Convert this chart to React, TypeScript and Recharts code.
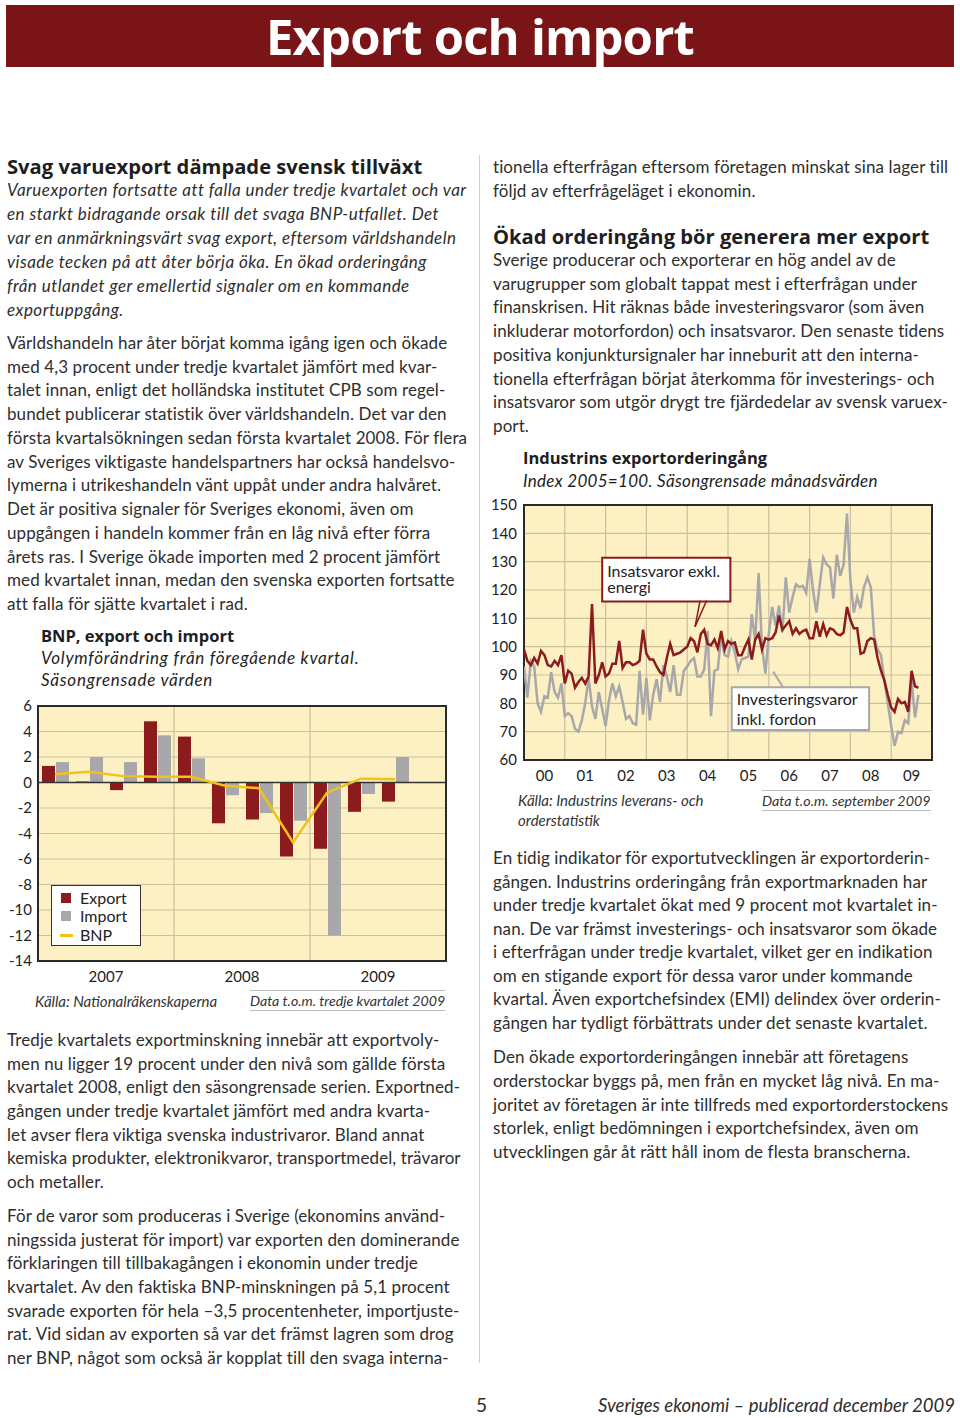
import React from "react";
import {
  ComposedChart,
  LineChart,
  Bar,
  Line,
  XAxis,
  YAxis,
  CartesianGrid,
  ReferenceLine,
  ReferenceArea,
} from "recharts";

// ---- BNP, export och import (quarterly, % change) ----
const quarters = ["2007K1", "2007K2", "2007K3", "2007K4", "2008K1", "2008K2", "2008K3", "2008K4", "2009K1", "2009K2", "2009K3", "2009K4"];
const exportChange = [1.3, 0.08, -0.6, 4.8, 3.6, -3.2, -2.9, -5.8, -5.2, -2.3, -1.5, null];
const importChange = [1.6, 2.0, 1.6, 3.7, 1.9, -1.0, -2.4, -3.0, -12.0, -0.9, 2.0, null];
const bnpChange = [0.65, 0.85, 0.5, 0.45, 0.45, -0.25, -0.45, -4.7, -0.8, 0.3, 0.25, null];
const bnpYears = ["2007", "2008", "2009"];
const bnpTicks = [6, 4, 2, 0, -2, -4, -6, -8, -10, -12, -14];

// ---- Industrins exportorderingång (monthly index, jan 2000 - sep 2009) ----
const insatsvaror = [
  99, 95, 93.5, 96, 94, 98.5, 97, 93.5, 93, 95, 93.5, 97,
  87, 91.5, 90.5, 85.5, 87.5, 89, 87, 89.5, 115, 87, 90, 94.5,
  89.5, 90.5, 94, 94, 102, 92.5, 94.5, 94.5, 93.5, 94, 95, 106,
  97.5, 95.5, 95.5, 93, 91, 90, 96, 101, 97, 97.5, 98, 99,
  100, 103, 102, 98, 104.5, 106, 101, 100.5, 102.5, 99.5, 105.5, 99,
  102, 101, 101.5, 97, 97, 100, 102.5, 95.5, 102.5, 104.5, 99, 103,
  102.5, 103, 105, 111, 106, 107.5, 109, 104.5, 106.5, 104.5, 105.5, 106,
  103, 103, 109, 103.5, 108, 104, 106.5, 106, 104.5, 104, 105, 114,
  109.5, 106.5, 106.5, 97.5, 98, 102, 103, 102.5, 96, 91.5, 88, 83,
  78.5, 77, 81.5, 80, 80.5, 77, 91.5, 86, 85.5,
];
const investeringsvaror = [
  93, 82, 95, 93, 80, 77, 82.5, 82, 91, 84, 82, 87,
  75.5, 76.5, 75.5, 71, 70, 74, 80, 89, 79, 74.5, 84, 78,
  72, 81, 87, 82.5, 86, 80.5, 74.5, 75.5, 73, 72.5, 91.5, 76,
  89, 74, 83, 88.5, 80.5, 93.5, 89.5, 84, 93.5, 83, 83, 91.5,
  93, 95, 96, 89.5, 89.5, 92, 105.5, 75.5, 91.5, 92, 104, 97,
  96.5, 102, 98, 92, 95.5, 96, 96.5, 111.5, 102, 126, 100, 90.5,
  104.5, 114, 107.5, 114.5, 105, 124.5, 112, 117.5, 122, 121, 121.5, 119,
  131, 120, 112, 122, 131.5, 129, 128, 117, 132.5, 125, 129, 147,
  123.5, 112, 117.5, 113.5, 121, 124.5, 121, 103.5, 99, 97, 88, 80,
  72, 65, 70, 69.5, 74, 73, 88, 75, 83,
];
const orderYears = ["00", "01", "02", "03", "04", "05", "06", "07", "08", "09"];
const orderTicks = [60, 70, 80, 90, 100, 110, 120, 130, 140, 150];

const bnpData = quarters.map((q, i) => ({
  q,
  t: i + 0.5,
  export: exportChange[i],
  import: importChange[i],
  bnp: bnpChange[i],
}));
const orderData = insatsvaror.map((v, i) => ({ m: i, insats: v, invest: investeringsvaror[i] }));

const FONT = "Lato, 'Open Sans', sans-serif";
const HEAD_FONT = "'Open Sans', Lato, sans-serif";
const TEXT = "#2e2e2e";
const PLOT_BG = "#fdf0c3";
const GRID = "#cbbf9f";
const DARK_RED = "#8c1b1e";
const GRAY = "#a8a8aa";
const GOLD = "#f2c219";

type BlockProps = {
  left: number;
  top: number;
  lh: number;
  size: number;
  lines: string[];
  italic?: boolean;
  bold?: boolean;
  color?: string;
  font?: string;
  spacing?: number;
};

function Block({ left, top, lh, size, lines, italic, bold, color, font, spacing }: BlockProps) {
  return (
    <div
      style={{
        position: "absolute",
        left,
        top,
        fontFamily: font ?? FONT,
        fontSize: size,
        lineHeight: `${lh}px`,
        fontStyle: italic ? "italic" : "normal",
        fontWeight: bold ? 700 : 400,
        color: color ?? TEXT,
        whiteSpace: "nowrap",
        letterSpacing: spacing ?? (bold ? 0 : italic ? 0.45 : 0.1),
      }}
    >
      {lines.map((l, i) => (
        <div key={i}>{l}</div>
      ))}
    </div>
  );
}

function BoxLabel(props: any) {
  const { viewBox, lines, dys } = props;
  if (!viewBox) return null;
  return (
    <text fontFamily={FONT} fontSize={16} fill="#222">
      {lines.map((l: string, i: number) => (
        <tspan key={i} x={viewBox.x + 5} y={viewBox.y + dys[i]}>
          {l}
        </tspan>
      ))}
    </text>
  );
}

function BnpChart() {
  return (
    <ComposedChart
      width={460}
      height={310}
      data={bnpData}
      margin={{ top: 16, right: 14, bottom: 9, left: 8 }}
      barGap={1}
      barCategoryGap={4}
    >
      <CartesianGrid fill={PLOT_BG} stroke={GRID} strokeWidth={1.2} verticalValues={[4, 8]} />
      <XAxis xAxisId="q" dataKey="q" hide />
      <XAxis
        dataKey="t"
        type="number"
        domain={[0, 12]}
        allowDataOverflow
        ticks={[2, 6, 10]}
        interval={0}
        tickFormatter={(v: number) => bnpYears[Math.round((v - 2) / 4)]}
        axisLine={false}
        tickLine={false}
        tickSize={0}
        tickMargin={10}
        height={30}
        tick={{ fill: "#222", fontSize: 15, fontFamily: FONT }}
      />
      <YAxis
        domain={[-14, 6]}
        ticks={bnpTicks}
        interval={0}
        allowDataOverflow
        width={30}
        axisLine={false}
        tickLine={false}
        tickSize={0}
        tickMargin={6}
        tick={{ fill: "#222", fontSize: 15, fontFamily: FONT }}
      />
      <Bar xAxisId="q" dataKey="export" fill={DARK_RED} isAnimationActive={false} />
      <Bar xAxisId="q" dataKey="import" fill={GRAY} isAnimationActive={false} />
      <ReferenceLine y={0} stroke="#333" strokeWidth={1.5} />
      <Line
        xAxisId="q"
        dataKey="bnp"
        stroke={GOLD}
        strokeWidth={2.5}
        dot={false}
        activeDot={false}
        isAnimationActive={false}
      />
      <ReferenceArea x1={0} x2={12} y1={-14} y2={6} fill="none" stroke="#2a2a2a" strokeWidth={2} />
    </ComposedChart>
  );
}

function OrderChart() {
  return (
    <LineChart
      width={470}
      height={310}
      data={orderData}
      margin={{ top: 20, right: 18, bottom: 7, left: 8 }}
    >
      <CartesianGrid
        fill={PLOT_BG}
        stroke={GRID}
        strokeWidth={1.2}
        verticalValues={[12, 24, 36, 48, 60, 72, 84, 96, 108]}
      />
      <XAxis
        dataKey="m"
        type="number"
        domain={[0, 120]}
        allowDataOverflow
        ticks={orderYears.map((_, i) => i * 12 + 6)}
        interval={0}
        tickFormatter={(v: number) => orderYears[Math.floor(v / 12)]}
        axisLine={false}
        tickLine={false}
        tickSize={0}
        tickMargin={10}
        height={28}
        tick={{ fill: "#222", fontSize: 15, fontFamily: FONT }}
      />
      <YAxis
        domain={[60, 150]}
        ticks={orderTicks}
        interval={0}
        allowDataOverflow
        width={36}
        axisLine={false}
        tickLine={false}
        tickSize={0}
        tickMargin={7}
        tick={{ fill: "#222", fontSize: 15, fontFamily: FONT }}
      />
      <Line
        dataKey="invest"
        stroke={GRAY}
        strokeWidth={2.5}
        dot={false}
        activeDot={false}
        isAnimationActive={false}
      />
      <Line
        dataKey="insats"
        stroke={DARK_RED}
        strokeWidth={2.5}
        dot={false}
        activeDot={false}
        isAnimationActive={false}
      />
      <ReferenceLine segment={[{ x: 51.8, y: 116.3 }, { x: 50.3, y: 107 }]} stroke={DARK_RED} strokeWidth={1.5} />
      <ReferenceLine segment={[{ x: 53.7, y: 116.3 }, { x: 50.3, y: 107 }]} stroke={DARK_RED} strokeWidth={1.5} />
      <ReferenceArea
        x1={23}
        x2={60.7}
        y1={115.9}
        y2={131.4}
        fill="#fff"
        fillOpacity={1}
        stroke={DARK_RED}
        strokeWidth={2}
        label={<BoxLabel lines={["Insatsvaror exkl.", "energi"]} dys={[19, 35.5]} />}
      />
      <ReferenceLine segment={[{ x: 76.3, y: 85.5 }, { x: 73.3, y: 91.2 }]} stroke={GRAY} strokeWidth={2} />
      <ReferenceArea
        x1={61.1}
        x2={101.5}
        y1={70.6}
        y2={85.65}
        fill="#fff"
        fillOpacity={1}
        stroke={GRAY}
        strokeWidth={2}
        label={<BoxLabel lines={["Investeringsvaror", "inkl. fordon"]} dys={[17.5, 37.5]} />}
      />
      <ReferenceArea x1={0} x2={120} y1={60} y2={150} fill="none" stroke="#2a2a2a" strokeWidth={2} />
    </LineChart>
  );
}

function LegendBox() {
  const row = (swatch: React.ReactNode, label: string, top: number) => (
    <div style={{ position: "absolute", left: 0, top, height: 18, display: "flex", alignItems: "center" }}>
      <div style={{ width: 28, display: "flex", justifyContent: "center" }}>{swatch}</div>
      <span style={{ fontSize: 16, color: "#222", lineHeight: "18px" }}>{label}</span>
    </div>
  );
  return (
    <div
      style={{
        position: "absolute",
        left: 51,
        top: 885,
        width: 88,
        height: 59,
        border: "1.5px solid #333",
        background: "#fff",
        fontFamily: FONT,
      }}
    >
      {row(<div style={{ width: 10, height: 10, background: DARK_RED }} />, "Export", 3)}
      {row(<div style={{ width: 10, height: 10, background: GRAY }} />, "Import", 21)}
      {row(<div style={{ width: 13, height: 3, background: GOLD }} />, "BNP", 40)}
    </div>
  );
}

const dataNote = (left: number, top: number, size: number, text: string) => (
  <div
    style={{
      position: "absolute",
      left,
      top,
      borderTop: "1px solid #bbb",
      borderBottom: "1px solid #bbb",
      fontFamily: FONT,
      fontStyle: "italic",
      fontSize: size,
      lineHeight: "19px",
      color: "#333",
      whiteSpace: "nowrap",
    }}
  >
    {text}
  </div>
);

export default function App() {
  return (
    <div
      style={{
        position: "absolute",
        left: 0,
        top: 0,
        width: 960,
        height: 1418,
        background: "#fff",
        overflow: "hidden",
        fontFamily: FONT,
      }}
    >
      {/* banner */}
      <div
        style={{
          position: "absolute",
          left: 6,
          top: 5,
          width: 948,
          height: 62,
          background: "#7b1416",
          color: "#fff",
          fontFamily: HEAD_FONT,
          fontWeight: 700,
          fontSize: 49,
          lineHeight: "62px",
          textAlign: "center",
          letterSpacing: -0.8,
        }}
      >
        Export och import
      </div>

      {/* column divider */}
      <div style={{ position: "absolute", left: 479, top: 155, width: 1, height: 1208, background: "#cfcfcf" }} />

      {/* left column */}
      <Block
        left={7}
        top={153}
        lh={26}
        size={20.2}
        bold
        font={HEAD_FONT}
        color="#1e1e1e"
        lines={["Svag varuexport dämpade svensk tillväxt"]}
      />
      <Block
        left={7}
        top={178}
        lh={24}
        size={17}
        italic
        lines={[
          "Varuexporten fortsatte att falla under tredje kvartalet och var",
          "en starkt bidragande orsak till det svaga BNP-utfallet. Det",
          "var en anmärkningsvärt svag export, eftersom världshandeln",
          "visade tecken på att åter börja öka. En ökad orderingång",
          "från utlandet ger emellertid signaler om en kommande",
          "exportuppgång.",
        ]}
      />
      <Block
        left={7}
        top={331}
        lh={23.73}
        size={17}
        lines={[
          "Världshandeln har åter börjat komma igång igen och ökade",
          "med 4,3 procent under tredje kvartalet jämfört med kvar-",
          "talet innan, enligt det holländska institutet CPB som regel-",
          "bundet publicerar statistik över världshandeln. Det var den",
          "första kvartalsökningen sedan första kvartalet 2008. För flera",
          "av Sveriges viktigaste handelspartners har också handelsvo-",
          "lymerna i utrikeshandeln vänt uppåt under andra halvåret.",
          "Det är positiva signaler för Sveriges ekonomi, även om",
          "uppgången i handeln kommer från en låg nivå efter förra",
          "årets ras. I Sverige ökade importen med 2 procent jämfört",
          "med kvartalet innan, medan den svenska exporten fortsatte",
          "att falla för sjätte kvartalet i rad.",
        ]}
      />

      {/* left chart */}
      <Block left={41} top={625} lh={22} size={16.5} bold font={HEAD_FONT} color="#1e1e1e" lines={["BNP, export och import"]} />
      <Block
        left={41}
        top={647}
        lh={22}
        size={17}
        italic
        spacing={0.75}
        color="#1e1e1e"
        lines={["Volymförändring från föregående kvartal.", "Säsongrensade värden"]}
      />
      <div style={{ position: "absolute", left: 0, top: 690 }}>
        <BnpChart />
      </div>
      <LegendBox />
      <Block left={35} top={991} lh={20} size={15} italic spacing={0} color="#333" lines={["Källa: Nationalräkenskaperna"]} />
      {dataNote(250, 990, 14.2, "Data t.o.m. tredje kvartalet 2009")}

      <Block
        left={7}
        top={1028}
        lh={23.67}
        size={17}
        lines={[
          "Tredje kvartalets exportminskning innebär att exportvoly-",
          "men nu ligger 19 procent under den nivå som gällde första",
          "kvartalet 2008, enligt den säsongrensade serien. Exportned-",
          "gången under tredje kvartalet jämfört med andra kvarta-",
          "let avser flera viktiga svenska industrivaror. Bland annat",
          "kemiska produkter, elektronikvaror, transportmedel, trävaror",
          "och metaller.",
        ]}
      />
      <Block
        left={7}
        top={1204}
        lh={23.67}
        size={17}
        lines={[
          "För de varor som produceras i Sverige (ekonomins använd-",
          "ningssida justerat för import) var exporten den dominerande",
          "förklaringen till tillbakagången i ekonomin under tredje",
          "kvartalet. Av den faktiska BNP-minskningen på 5,1 procent",
          "svarade exporten för hela –3,5 procentenheter, importjuste-",
          "rat. Vid sidan av exporten så var det främst lagren som drog",
          "ner BNP, något som också är kopplat till den svaga interna-",
        ]}
      />

      {/* right column */}
      <Block
        left={493}
        top={155}
        lh={23.7}
        size={17}
        lines={[
          "tionella efterfrågan eftersom företagen minskat sina lager till",
          "följd av efterfrågeläget i ekonomin.",
        ]}
      />
      <Block
        left={493}
        top={223}
        lh={26}
        size={20.2}
        bold
        font={HEAD_FONT}
        color="#1e1e1e"
        lines={["Ökad orderingång bör generera mer export"]}
      />
      <Block
        left={493}
        top={248}
        lh={23.71}
        size={17}
        lines={[
          "Sverige producerar och exporterar en hög andel av de",
          "varugrupper som globalt tappat mest i efterfrågan under",
          "finanskrisen. Hit räknas både investeringsvaror (som även",
          "inkluderar motorfordon) och insatsvaror. Den senaste tidens",
          "positiva konjunktursignaler har inneburit att den interna-",
          "tionella efterfrågan börjat återkomma för investerings- och",
          "insatsvaror som utgör drygt tre fjärdedelar av svensk varuex-",
          "port.",
        ]}
      />

      {/* right chart */}
      <Block left={523} top={447} lh={22} size={16.5} bold font={HEAD_FONT} color="#1e1e1e" lines={["Industrins exportorderingång"]} />
      <Block left={523} top={470} lh={22} size={17} italic spacing={0.3} color="#1e1e1e" lines={["Index 2005=100. Säsongrensade månadsvärden"]} />
      <div style={{ position: "absolute", left: 480, top: 485 }}>
        <OrderChart />
      </div>
      <Block
        left={518}
        top={790}
        lh={20}
        size={15}
        italic
        spacing={0}
        color="#333"
        lines={["Källa: Industrins leverans- och", "orderstatistik"]}
      />
      {dataNote(762, 790, 14.3, "Data t.o.m. september 2009")}

      <Block
        left={493}
        top={846}
        lh={23.57}
        size={17}
        lines={[
          "En tidig indikator för exportutvecklingen är exportorderin-",
          "gången. Industrins orderingång från exportmarknaden har",
          "under tredje kvartalet ökat med 9 procent mot kvartalet in-",
          "nan. De var främst investerings- och insatsvaror som ökade",
          "i efterfrågan under tredje kvartalet, vilket ger en indikation",
          "om en stigande export för dessa varor under kommande",
          "kvartal. Även exportchefsindex (EMI) delindex över orderin-",
          "gången har tydligt förbättrats under det senaste kvartalet.",
        ]}
      />
      <Block
        left={493}
        top={1045}
        lh={23.75}
        size={17}
        lines={[
          "Den ökade exportorderingången innebär att företagens",
          "orderstockar byggs på, men från en mycket låg nivå. En ma-",
          "joritet av företagen är inte tillfreds med exportorderstockens",
          "storlek, enligt bedömningen i exportchefsindex, även om",
          "utvecklingen går åt rätt håll inom de flesta branscherna.",
        ]}
      />

      {/* footer */}
      <Block left={476} top={1393} lh={24} size={19} spacing={0} lines={["5"]} />
      <div
        style={{
          position: "absolute",
          right: 5,
          top: 1393,
          fontFamily: FONT,
          fontStyle: "italic",
          fontSize: 18.5,
          lineHeight: "24px",
          color: TEXT,
          whiteSpace: "nowrap",
        }}
      >
        Sveriges ekonomi – publicerad december 2009
      </div>
    </div>
  );
}
